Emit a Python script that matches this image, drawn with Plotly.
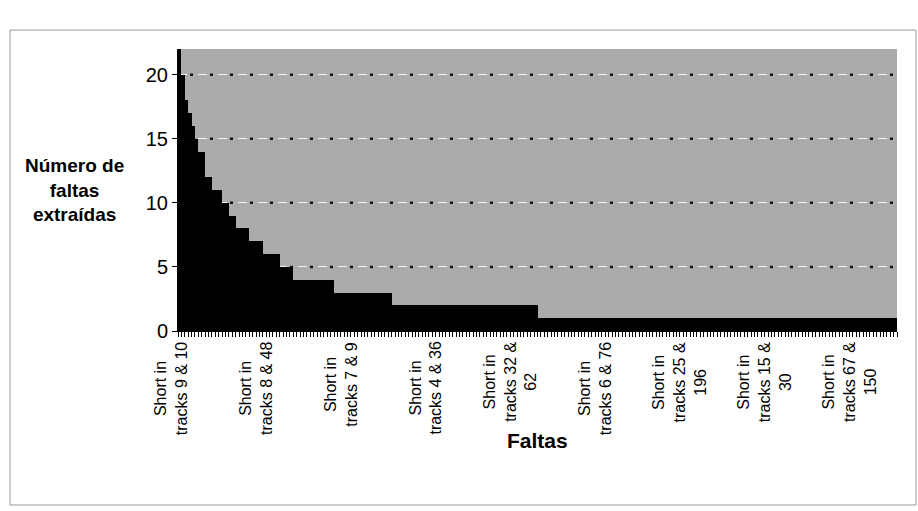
import plotly.graph_objects as go

# Number of extracted faults per fault, sorted in descending order
faults_extracted = [
    22, 20, 18, 17, 16, 15, 14, 14, 12, 12, 11, 11, 11, 10, 10, 9, 9,
    8, 8, 8, 8, 7, 7, 7, 7, 6, 6, 6, 6, 6, 5, 5, 5, 5,
    4, 4, 4, 4, 4, 4, 4, 4, 4, 4, 4, 4,
    3, 3, 3, 3, 3, 3, 3, 3, 3, 3, 3, 3, 3, 3, 3, 3, 3,
    2, 2, 2, 2, 2, 2, 2, 2, 2, 2, 2, 2, 2, 2, 2, 2, 2, 2, 2, 2, 2, 2,
    2, 2, 2, 2, 2, 2, 2, 2, 2, 2, 2, 2, 2, 2, 2, 2, 2, 2, 2, 2, 2,
    1, 1, 1, 1, 1, 1, 1, 1, 1, 1, 1, 1, 1, 1, 1, 1, 1, 1, 1, 1, 1, 1,
    1, 1, 1, 1, 1, 1, 1, 1, 1, 1, 1, 1, 1, 1, 1, 1, 1, 1, 1, 1, 1, 1,
    1, 1, 1, 1, 1, 1, 1, 1, 1, 1, 1, 1, 1, 1, 1, 1, 1, 1, 1, 1, 1, 1,
    1, 1, 1, 1, 1, 1, 1, 1, 1, 1, 1, 1, 1, 1, 1, 1, 1, 1, 1, 1, 1, 1,
    1, 1, 1, 1, 1, 1, 1, 1, 1, 1, 1, 1, 1, 1, 1, 1, 1, 1,
]

# Faults whose names are printed on the category axis (every 25th fault)
label_index = [0, 25, 50, 75, 100, 125, 150, 175, 200]
label_text = [
    "Short in<br>tracks 9 & 10",
    "Short in<br>tracks 8 & 48",
    "Short in<br>tracks 7 & 9",
    "Short in<br>tracks 4 & 36",
    "Short in<br>tracks 32 &<br>62",
    "Short in<br>tracks 6 & 76",
    "Short in<br>tracks 25 &<br>196",
    "Short in<br>tracks 15 &<br>30",
    "Short in<br>tracks 67 &<br>150",
]

y_ticks = [0, 5, 10, 15, 20]

FONT = "Liberation Sans, Arial, sans-serif"
n = len(faults_extracted)

fig = go.Figure(
    go.Bar(
        x=list(range(n)),
        y=faults_extracted,
        marker=dict(color="#000000", line=dict(width=0)),
        hoverinfo="y",
    )
)

# dark dots sitting between the light dashes of the gridlines
shapes = [
    dict(
        type="line", xref="paper", yref="y", x0=0, x1=1, y0=v, y1=v,
        line=dict(color="#111111", width=2.5, dash="0px,12px,3px,5px"),
        layer="below",
    )
    for v in y_ticks[1:]
]
# chart-area frame
shapes.append(
    dict(
        type="rect", xref="paper", yref="paper",
        x0=-0.2337, x1=1.0264, y0=-0.617, y1=1.067,
        line=dict(color="#9a9a9a", width=1), layer="below",
    )
)

annotations = [
    dict(
        x=i, xref="x", y=0, yref="paper", text=t, showarrow=False,
        textangle=-90, xanchor="center", yanchor="top", align="center",
        yshift=-9, xshift=-9,
        font=dict(family=FONT, size=16, color="#000000"),
    )
    for i, t in zip(label_index, label_text)
]
annotations.append(
    dict(
        x=0.5, xref="paper", y=0, yref="paper", yshift=-109,
        text="<b>Faltas</b>", showarrow=False,
        xanchor="center", yanchor="middle",
        font=dict(family=FONT, size=21, color="#000000"),
    )
)
annotations.append(
    dict(
        x=-0.1437, xref="paper", y=0.5, yref="paper",
        text="<b>Número de<br>faltas<br>extraídas</b>", showarrow=False,
        xanchor="center", yanchor="middle", align="center",
        font=dict(family=FONT, size=19, color="#000000"),
    )
)

fig.update_layout(
    width=918,
    height=511,
    margin=dict(l=178, r=21, t=49, b=180),
    paper_bgcolor="#ffffff",
    plot_bgcolor="#ababab",
    bargap=0,
    showlegend=False,
    shapes=shapes,
    annotations=annotations,
    xaxis=dict(
        range=[-0.5, n - 0.5],
        tick0=-0.5,
        dtick=1,
        ticks="outside",
        ticklen=5,
        tickwidth=1,
        tickcolor="#000000",
        showticklabels=False,
        showgrid=False,
        zeroline=False,
        showline=True,
        linecolor="#000000",
        linewidth=1,
    ),
    yaxis=dict(
        range=[0, 22],
        tickvals=y_ticks,
        ticks="outside",
        ticklen=5,
        tickcolor="#000000",
        tickfont=dict(family=FONT, size=20, color="#000000"),
        showgrid=True,
        gridcolor="#f2f2f2",
        gridwidth=1,
        griddash="9px,11px",
        zeroline=False,
        showline=True,
        linecolor="#000000",
        linewidth=1,
    ),
)

fig.write_html("out.html")
